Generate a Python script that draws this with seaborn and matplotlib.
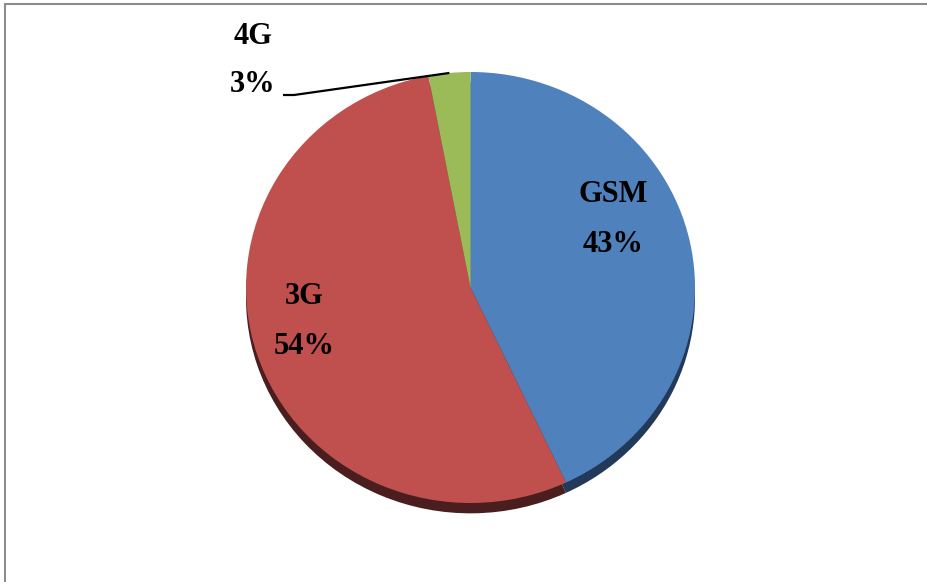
import numpy as np
import matplotlib
matplotlib.use("Agg")
import matplotlib.pyplot as plt
from matplotlib.lines import Line2D
import seaborn as sns

# Network technology share
categories = ["GSM", "3G", "4G"]
shares = [43, 54, 3]
pct_labels = ["43%", "54%", "3%"]

face_colors = ["#4F81BD", "#C0504D", "#9BBB59"]
side_colors = ["#22395A", "#4A1E1E", "#4A5A2A"]

sns.set_theme(style="white")
plt.rcParams["font.family"] = ["Liberation Serif", "DejaVu Serif"]

W, H = 928, 582
fig = plt.figure(figsize=(W / 100, H / 100), dpi=100)
ax = fig.add_axes([0, 0, 1, 1])
ax.axis("off")

# pie geometry in pixels (slightly flattened, like a tilted 3D pie)
cx, cy, rx, ry = 470.5, 287.5, 224.5, 215.5

# extruded side of the pie, drawn behind the top face
ax.pie(shares, colors=side_colors, startangle=90, counterclock=False,
       center=(0, -0.048), radius=1.0, wedgeprops=dict(linewidth=0))
wedges, _ = ax.pie(shares, colors=face_colors, startangle=90, counterclock=False,
                   center=(0, 0), radius=1.0, wedgeprops=dict(linewidth=0))

ax.set_aspect("auto")
ax.set_xlim(-cx / rx, (W - cx) / rx)
ax.set_ylim(-(H - cy) / ry, cy / ry)

def px(x, y):
    return (x - cx) / rx, (cy - y) / ry

# label centres (pixels)
label_pos = [(613, 220), (304, 322), (253, 61)]
font = dict(fontsize=22, fontweight="bold", color="black", ha="center", va="center")
for name, pct, (lx, ly) in zip(categories, pct_labels, label_pos):
    ax.text(*px(lx, ly - 25), name, **font)
    ax.text(*px(lx, ly + 24), pct, **font)

# leader line for the small slice
w = wedges[2]
mid = np.deg2rad((w.theta1 + w.theta2) / 2)
ex, ey = np.cos(mid), np.sin(mid)
x0, y0 = px(283, 95)
x1, _ = px(294, 95)
ax.plot([x0, x1, ex], [y0, y0, ey], color="black", lw=1.6, solid_capstyle="butt")

# chart-area frame (left and top edges)
fig.add_artist(Line2D([5.5 / W, 5.5 / W], [0, 1 - 3.5 / H], transform=fig.transFigure,
                      color="#8C8C8C", lw=1.5))
fig.add_artist(Line2D([5.5 / W, 1], [1 - 3.5 / H, 1 - 3.5 / H], transform=fig.transFigure,
                      color="#8C8C8C", lw=1.5))

fig.savefig("out.png", dpi=100, facecolor="white")
